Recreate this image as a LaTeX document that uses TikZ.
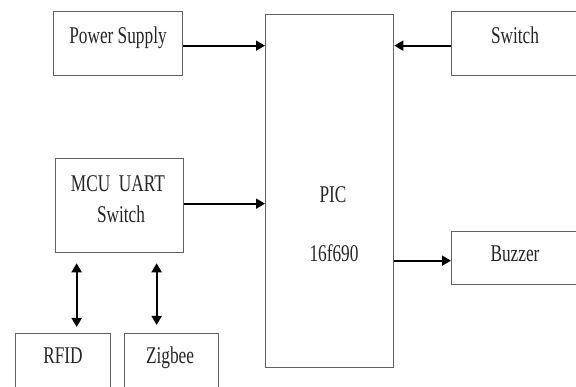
\documentclass[tikz,border=0pt]{standalone}
\usepackage{fontspec}
\setmainfont{Liberation Serif}[FakeStretch=0.72]
\usetikzlibrary{arrows.meta}
\begin{document}
\begin{tikzpicture}[x=1pt,y=-1pt,
  box/.style={draw=black!62, line width=1.3pt, rectangle, inner sep=0pt, anchor=north west},
  txt/.style={anchor=base, inner sep=0pt, text=black!85, font=\fontsize{24}{29}\selectfont},
  arr/.style={line width=1.9pt, -{Triangle[length=9pt,width=10pt]}},
  dbl/.style={line width=1.9pt, {Triangle[length=9pt,width=10pt]}-{Triangle[length=9pt,width=10pt]}}]
\useasboundingbox (0,0) rectangle (576,387);
\clip (0,0) rectangle (576,387);
\fill[white] (0,0) rectangle (576,387);
% boxes
\node[box, minimum width=129pt, minimum height=64pt] (ps) at (53,11) {};
\node[box, minimum width=128pt, minimum height=94pt] (mcu) at (55,158) {};
\node[box, minimum width=128pt, minimum height=353pt] (pic) at (265,14) {};
\node[box, minimum width=130pt, minimum height=64pt] (sw) at (451,11) {};
\node[box, minimum width=130pt, minimum height=53pt] (bz) at (451,231) {};
\node[box, minimum width=95pt, minimum height=70pt] (rfid) at (15,333) {};
\node[box, minimum width=94pt, minimum height=70pt] (zig) at (124,333) {};
% texts
\node[txt] (pst) at (118,44) {Power Supply};
\node[txt] (mcut1) at (118,192) {MCU\ \ UART};
\node[txt] (mcut2) at (121,223) {Switch};
\node[txt] (pict1) at (333,203) {PIC};
\node[txt] (pict2) at (334,262) {16f690};
\node[txt] (swt) at (515,44) {Switch};
\node[txt] (bzt) at (515,262) {Buzzer};
\node[txt] (rfidt) at (63,364) {RFID};
\node[txt] (zigt) at (170,364) {Zigbee};
% connectors
\draw[arr] ([yshift=-2pt]ps.east) -- ([yshift=-2pt]ps.east -| pic.west);
\draw[arr] ([yshift=-2pt]sw.west) -- ([yshift=-2pt]sw.west -| pic.east);
\draw[arr] ([yshift=2pt]mcu.east) -- ([yshift=2pt]mcu.east -| pic.west);
\draw[arr] ([yshift=-2.5pt]bz.west -| pic.east) -- ([yshift=-2.5pt]bz.west);
\draw[dbl, shorten <=6pt, shorten >=10pt] ([xshift=13.5pt]rfid.north) -- ([xshift=13.5pt]rfid.north |- mcu.south);
\draw[dbl, shorten <=8pt, shorten >=10pt] ([xshift=-15pt]zig.north) -- ([xshift=-15pt]zig.north |- mcu.south);
\end{tikzpicture}
\end{document}
